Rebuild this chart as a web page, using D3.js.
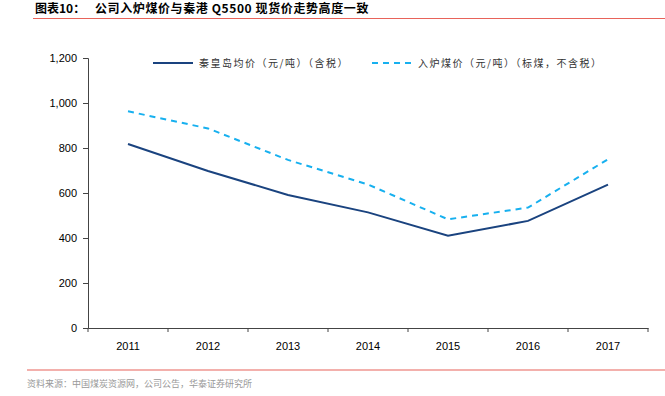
<!DOCTYPE html>
<html lang="zh">
<head>
<meta charset="utf-8">
<title>公司入炉煤价与秦港 Q5500 现货价</title>
<script src="https://d3js.org/d3.v7.min.js"></script>
<style>
  body { margin: 0; background: #fff; }
  svg { display: block; }
  .tick text { font-family: "Liberation Sans", Arial, sans-serif; font-size: 11px; fill: #000; }
  .cn { font-family: "Noto Sans CJK SC", sans-serif; }
</style>
</head>
<body>
<svg width="665" height="396"></svg>
<script>
// data
const years = ["2011", "2012", "2013", "2014", "2015", "2016", "2017"];
const qhdPrice = [818, 698, 591, 514, 410, 476, 637];      // 秦皇岛均价（元/吨）（含税）
const furnacePrice = [963, 887, 747, 638, 483, 535, 750];  // 入炉煤价（元/吨）（标煤，不含税）
const yTicks = [0, 200, 400, 600, 800, 1000, 1200];

const svg = d3.select("svg");
const plotL = 88, plotR = 648, plotT = 58, plotB = 328;

const x = d3.scaleBand().domain(years).range([plotL, plotR]);
const y = d3.scaleLinear().domain([0, 1200]).range([plotB, plotT]);

// title + red rule
const title = svg.append("text").attr("class", "cn")
  .attr("y", 13)
  .attr("font-size", 12).attr("font-weight", "bold").attr("fill", "#000");
title.append("tspan").attr("x", 35).text("图表10：");
title.append("tspan").attr("x", 95).attr("letter-spacing", 0.6)
  .text("公司入炉煤价与秦港 Q5500 现货价走势高度一致");
svg.append("line").attr("x1", 33).attr("x2", 665).attr("y1", 18.5).attr("y2", 18.5)
  .attr("stroke", "#e8635a").attr("stroke-width", 1.2);

// y axis
const yAxis = svg.append("g")
  .attr("transform", "translate(" + plotL + ",0)")
  .call(d3.axisLeft(y).tickValues(yTicks).tickSize(5).tickPadding(6).tickFormat(d3.format(",")));
yAxis.selectAll("line, path").attr("stroke", "#444");

// x axis, ticks between categories
const xAxis = svg.append("g")
  .attr("transform", "translate(0," + plotB + ")")
  .call(d3.axisBottom(x).tickSize(0).tickPadding(14));
xAxis.select("path").attr("stroke", "#444");
xAxis.selectAll(".tick line").remove();
xAxis.selectAll(".sep")
  .data(years.concat(["end"]))
  .enter().append("line")
  .attr("x1", (d, i) => plotL + i * x.step())
  .attr("x2", (d, i) => plotL + i * x.step())
  .attr("y1", 0).attr("y2", 4)
  .attr("stroke", "#444");

const line = d3.line()
  .x((d, i) => x(years[i]) + x.bandwidth() / 2)
  .y(d => y(d));

svg.append("path").datum(qhdPrice)
  .attr("d", line).attr("fill", "none")
  .attr("stroke", "#1a437f").attr("stroke-width", 2);

svg.append("path").datum(furnacePrice)
  .attr("d", line).attr("fill", "none")
  .attr("stroke", "#17b0ef").attr("stroke-width", 2)
  .attr("stroke-dasharray", "6,5");

// legend
const legend = [
  { name: "秦皇岛均价（元/吨）（含税）", color: "#1a437f", dash: null, x: 153 },
  { name: "入炉煤价（元/吨）（标煤，不含税）", color: "#17b0ef", dash: "6,5", x: 372 }
];
const lg = svg.selectAll(".lg").data(legend).enter().append("g")
  .attr("transform", d => "translate(" + d.x + ",63)");
lg.append("line").attr("x1", 0).attr("x2", 40)
  .attr("stroke", d => d.color).attr("stroke-width", 2)
  .attr("stroke-dasharray", d => d.dash);
lg.append("text").attr("class", "cn")
  .attr("x", 46).attr("y", 4)
  .attr("font-size", 10).attr("letter-spacing", 1.5).attr("fill", "#333")
  .text(d => d.name);

// source
svg.append("line").attr("x1", 27).attr("x2", 665).attr("y1", 370).attr("y2", 370)
  .attr("stroke", "#e8635a").attr("stroke-width", 1.2);
svg.append("text").attr("class", "cn")
  .attr("x", 27).attr("y", 387)
  .attr("font-size", 9).attr("fill", "#999")
  .text("资料来源：中国煤炭资源网，公司公告，华泰证券研究所");
</script>
</body>
</html>
